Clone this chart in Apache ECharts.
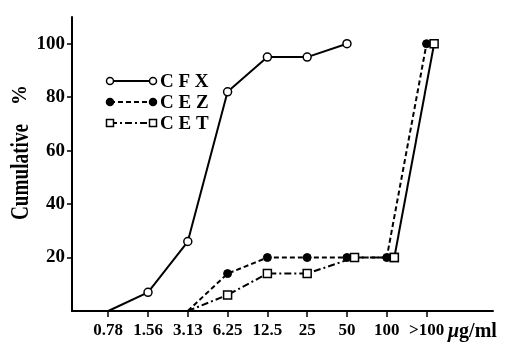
<!DOCTYPE html>
<html><head><meta charset="utf-8">
<script src="https://cdn.jsdelivr.net/npm/echarts@6/dist/echarts.min.js"></script>
<style>html,body{margin:0;padding:0;background:#fff}#c{width:507px;height:345px}</style>
</head><body><div id="c"></div>
<script>
// ---- data ----
const categories = ['0.78', '1.56', '3.13', '6.25', '12.5', '25', '50', '100', '>100'];
const yTickValues = [20, 40, 60, 80, 100];
const cfxValues = [0, 7, 26, 82, 95, 95, 100, null, null];
const cezValues = [null, null, 0, 14, 20, 20, 20, 20, 100];
const cetValues = [null, null, 0, 6, 14, 14, 20, 20, 100];
const seriesNames = ['CFX', 'CEZ', 'CET'];

// ---- styling helpers ----
const FONT = '"Liberation Serif", "DejaVu Serif", serif';
const CET_OFFSET_FROM = 6;   // in the original the CET marks from "50" on sit slightly right
const CET_OFFSET = 0.19;

function toPoints(vals, shiftFrom, shift) {
  const out = [];
  vals.forEach((v, i) => {
    if (v === null) return;
    const x = (shiftFrom !== undefined && i >= shiftFrom) ? i + shift : i;
    const item = { value: [x, v] };
    if (v === 0) item.symbol = 'none';
    out.push(item);
  });
  return out;
}
const cfxData = toPoints(cfxValues);
const cezData = toPoints(cezValues);
const cetAll = toPoints(cetValues, CET_OFFSET_FROM, CET_OFFSET);
const cetMain = cetAll.slice(0, cetAll.length - 1);
const cetTail = cetAll.slice(cetAll.length - 2);

const chart = echarts.init(document.getElementById('c'), null, { renderer: 'canvas' });

const legendX = 110, legendY0 = 81, legendDy = 21, legendLen = 43;
const legendGraphics = [];
const dashes = [null, [5, 3], [7, 3, 2, 3]];
const syms = ['circle', 'circleFill', 'rect'];
seriesNames.forEach((n, k) => {
  const y = legendY0 + k * legendDy;
  legendGraphics.push({
    type: 'line', shape: { x1: legendX, y1: y, x2: legendX + legendLen, y2: y },
    style: { stroke: '#000', lineWidth: 2, lineDash: dashes[k] }
  });
  [legendX, legendX + legendLen].forEach(cx => {
    if (syms[k] === 'rect') {
      legendGraphics.push({ type: 'rect', shape: { x: cx - 3.5, y: y - 3.5, width: 7, height: 7 },
        style: { fill: '#fff', stroke: '#000', lineWidth: 1.5 } });
    } else {
      legendGraphics.push({ type: 'circle', shape: { cx: cx, cy: y, r: 3.5 },
        style: { fill: syms[k] === 'circleFill' ? '#000' : '#fff', stroke: '#000', lineWidth: 1.5 } });
    }
  });
  legendGraphics.push({
    type: 'text', x: legendX + legendLen + 7, y: y + 1,
    style: { text: n.split('').join(' '), font: 'bold 19px ' + FONT, fill: '#000', verticalAlign: 'middle' }
  });
});

chart.setOption({
  animation: false,
  backgroundColor: '#fff',
  grid: { left: 72, right: 14, top: 17, bottom: 34, containLabel: false },
  xAxis: {
    type: 'value', min: -0.91, max: 9.67,
    axisLine: { lineStyle: { color: '#000', width: 2 } },
    axisTick: { show: true, length: 6, lineStyle: { color: '#000', width: 1.5 }, customValues: categories.map((c, i) => i) },
    axisLabel: { show: true, margin: 11, color: '#000', fontFamily: FONT, fontWeight: 'bold', fontSize: 17,
      customValues: categories.map((c, i) => i), formatter: v => categories[Math.round(v)] },
    splitLine: { show: false }
  },
  yAxis: {
    type: 'value', min: 0, max: 110,
    axisLine: { show: true, onZero: false, lineStyle: { color: '#000', width: 2 } },
    axisTick: { show: true, length: 5, lineStyle: { color: '#000', width: 1.5 }, customValues: yTickValues },
    axisLabel: { show: true, margin: 7, color: '#000', fontFamily: FONT, fontWeight: 'bold', fontSize: 19,
      customValues: yTickValues },
    splitLine: { show: false }
  },
  graphic: legendGraphics.concat([
    { type: 'text', x: 21, y: 172, rotation: Math.PI / 2, scaleX: 0.74,
      style: { text: 'Cumulative', font: 'bold 26px ' + FONT, fill: '#000', align: 'center', verticalAlign: 'middle' } },
    { type: 'text', x: 21, y: 95, rotation: Math.PI / 2,
      style: { text: '%', font: 'bold 20px ' + FONT, fill: '#000', align: 'center', verticalAlign: 'middle' } },
    { type: 'text', x: 448, y: 332,
      style: { text: '{i|\u03bc}g/ml', font: 'bold 20px ' + FONT, fill: '#000', verticalAlign: 'middle',
        rich: { i: { fontStyle: 'italic', fontWeight: 'bold', fontSize: 20, fontFamily: FONT } } } }
  ]),
  series: [
    { name: 'CFX', type: 'line', data: cfxData, symbol: 'circle', symbolSize: 8,
      lineStyle: { color: '#000', width: 2 },
      itemStyle: { color: '#fff', borderColor: '#000', borderWidth: 1.5 } },
    { name: 'CEZ', type: 'line', data: cezData, symbol: 'circle', symbolSize: 8,
      lineStyle: { color: '#000', width: 2, type: [5, 3] },
      itemStyle: { color: '#000', borderColor: '#000', borderWidth: 1 } },
    { name: 'CET', type: 'line', data: cetMain, symbol: 'rect', symbolSize: 8,
      lineStyle: { color: '#000', width: 2, type: [7, 3, 2, 3] },
      itemStyle: { color: '#fff', borderColor: '#000', borderWidth: 1.5 } },
    { name: 'CET ', type: 'line', data: cetTail, symbol: 'rect', symbolSize: 8,
      lineStyle: { color: '#000', width: 2 },
      itemStyle: { color: '#fff', borderColor: '#000', borderWidth: 1.5 } }
  ]
});
</script>
</body></html>
